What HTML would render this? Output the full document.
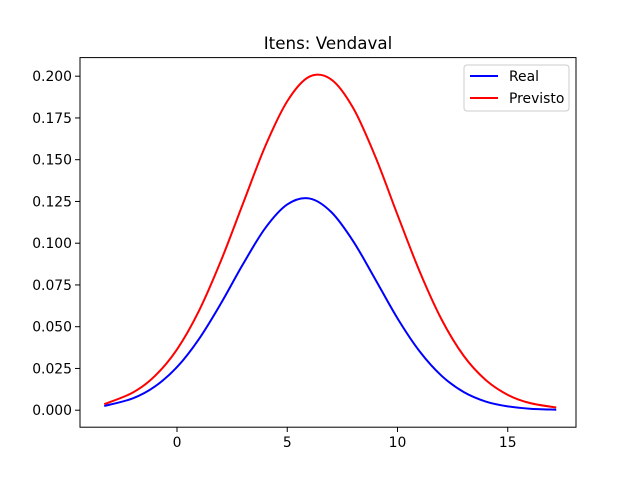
<!DOCTYPE html>
<html><head><meta charset="utf-8"><style>
body{margin:0;background:#fff;}
svg{display:block;font-family:"DejaVu Sans","Liberation Sans",sans-serif;}
</style></head><body>
<svg id="chart" width="640" height="480" viewBox="0 0 640 480">
<rect width="640" height="480" fill="#fff"/>
<text x="328" y="49" font-size="16.7" text-anchor="middle">Itens: Vendaval</text>
<g id="ticks"></g>
<g id="series"></g>
<rect x="80" y="57.6" width="496" height="369.6" fill="none" stroke="#000" stroke-width="1"/>
<g>
<rect x="464" y="65" width="105" height="46" rx="3" fill="#fff" fill-opacity="0.8" stroke="#ccc"/>
<line x1="470" y1="76" x2="498" y2="76" stroke="#0000ff" stroke-width="2"/>
<text x="509" y="81" font-size="13.9">Real</text>
<line x1="470" y1="98" x2="498" y2="98" stroke="#ff0000" stroke-width="2"/>
<text x="509" y="103" font-size="13.9">Previsto</text>
</g>
</svg>
<script>
const xValues=[-3.3,-2,-1,0,1,2,3,4,5,6,7,8,9,10,11,12,13,14,15,16,17.2];
const realValues=[0.0025,0.0071,0.0142,0.0258,0.0427,0.0641,0.0876,0.109,0.1232,0.1268,0.1186,0.101,0.0782,0.055,0.0353,0.0206,0.0109,0.0052,0.0023,0.0009,0.0003];
const previstoValues=[0.0036,0.0106,0.0205,0.0364,0.0596,0.0897,0.124,0.158,0.185,0.1997,0.198,0.1807,0.1517,0.117,0.0832,0.0543,0.0326,0.0181,0.0092,0.0043,0.0016];
const xTicks=[0,5,10,15];
const yTicks=[0,0.025,0.05,0.075,0.1,0.125,0.15,0.175,0.2];
const NS="http://www.w3.org/2000/svg";
function xs(v){return 177+v*22.05;}
function ys(v){return 410.2-v*1670;}
const tg=document.getElementById('ticks');
function mk(tag,attrs,parent){const e=document.createElementNS(NS,tag);for(const k in attrs)e.setAttribute(k,attrs[k]);parent.appendChild(e);return e;}
xTicks.forEach(t=>{
 const l=mk('line',{x1:xs(t),x2:xs(t),y1:427.2,y2:432,stroke:'#000'},tg);
 
 
 const tx=mk('text',{x:xs(t),y:447,'font-size':13.9,'text-anchor':'middle'},tg);
 tx.textContent=t;
 
 
});
yTicks.forEach(t=>{
 const l=mk('line',{x1:75,x2:80,y1:ys(t),y2:ys(t),stroke:'#000'},tg);
 
 
 const tx=mk('text',{x:72,y:ys(t)+5,'font-size':13.9,'text-anchor':'end'},tg);
 tx.textContent=t.toFixed(3);
 
 
});
function pathFor(vals){
 const p=xValues.map((x,i)=>[xs(x),ys(vals[i])]);
 let d='M'+p[0][0]+','+p[0][1];
 for(let i=0;i<p.length-1;i++){
  const p0=p[i-1]||p[i],p1=p[i],p2=p[i+1],p3=p[i+2]||p[i+1];
  const c1=[p1[0]+(p2[0]-p0[0])/6,p1[1]+(p2[1]-p0[1])/6];
  const c2=[p2[0]-(p3[0]-p1[0])/6,p2[1]-(p3[1]-p1[1])/6];
  d+=' C'+c1+' '+c2+' '+p2;
 }
 return d;
}
const sg=document.getElementById('series');
const r=mk('path',{d:pathFor(realValues),fill:'none',stroke:'#0000ff','stroke-width':2},sg);


const pv=mk('path',{d:pathFor(previstoValues),fill:'none',stroke:'#ff0000','stroke-width':2},sg);


</script>
</body></html>
